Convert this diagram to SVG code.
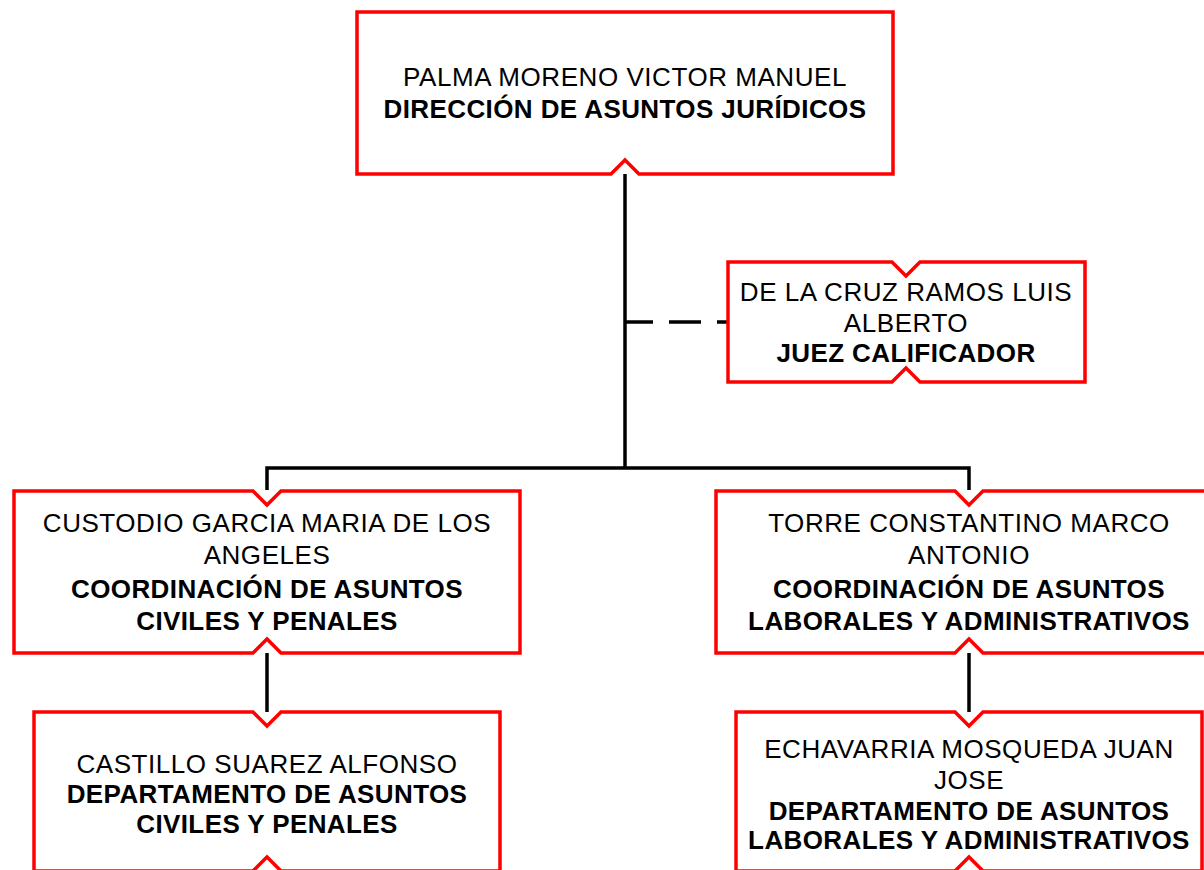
<svg xmlns="http://www.w3.org/2000/svg" width="1204" height="870" viewBox="0 0 1204 870">
<style>
.box{fill:#FFFFFF;stroke:#FF0000;stroke-width:3.5;stroke-linejoin:miter}
.ln{fill:none;stroke:#000000;stroke-width:3.5}
.dash{fill:none;stroke:#000000;stroke-width:3.5;stroke-dasharray:28 16 32 16 32 16}
text{font-family:"Liberation Sans",Arial,sans-serif;font-size:26px;letter-spacing:0.55px;fill:#000000;text-anchor:middle}
.b{font-weight:bold;letter-spacing:0.4px}
</style>
<rect width="1204" height="870" fill="#FFFFFF"/>
<g id="connectors">
<path class="ln" d="M625,174 V468"/>
<path class="ln" d="M267,490 V468 H969 V490"/>
<path class="dash" d="M625,322 H727"/>
<path class="ln" d="M267,653 V712"/>
<path class="ln" d="M969,653 V712"/>
</g>
<g id="n1">
<path class="box" d="M357,12 H893 V174 H639 L625,160 L611,174 H357 Z"/>
<text x="625" y="86">PALMA MORENO VICTOR MANUEL</text>
<text class="b" x="625" y="118">DIRECCIÓN DE ASUNTOS JURÍDICOS</text>
</g>
<g id="n2">
<path class="box" d="M728,262 H892 L906,276 L920,262 H1085 V382 H920 L906,368 L892,382 H728 Z"/>
<text x="906" y="301">DE LA CRUZ RAMOS LUIS</text>
<text x="906" y="332">ALBERTO</text>
<text class="b" x="906" y="362">JUEZ CALIFICADOR</text>
</g>
<g id="n3">
<path class="box" d="M14,491 H253 L267,505 L281,491 H520 V653 H281 L267,639 L253,653 H14 Z"/>
<text x="267" y="532">CUSTODIO GARCIA MARIA DE LOS</text>
<text x="267" y="564">ANGELES</text>
<text class="b" x="267" y="598">COORDINACIÓN DE ASUNTOS</text>
<text class="b" x="267" y="630">CIVILES Y PENALES</text>
</g>
<g id="n4">
<path class="box" d="M716,491 H955 L969,505 L983,491 H1222 V653 H983 L969,639 L955,653 H716 Z"/>
<text x="969" y="532">TORRE CONSTANTINO MARCO</text>
<text x="969" y="564">ANTONIO</text>
<text class="b" x="969" y="598">COORDINACIÓN DE ASUNTOS</text>
<text class="b" x="969" y="630">LABORALES Y ADMINISTRATIVOS</text>
</g>
<g id="n5">
<path class="box" d="M34,712 H253 L267,726 L281,712 H500 V871 H281 L267,857 L253,871 H34 Z"/>
<text x="267" y="773">CASTILLO SUAREZ ALFONSO</text>
<text class="b" x="267" y="803">DEPARTAMENTO DE ASUNTOS</text>
<text class="b" x="267" y="833">CIVILES Y PENALES</text>
</g>
<g id="n6">
<path class="box" d="M736,712 H955 L969,726 L983,712 H1202 V871 H983 L969,857 L955,871 H736 Z"/>
<text x="969" y="758">ECHAVARRIA MOSQUEDA JUAN</text>
<text x="969" y="789">JOSE</text>
<text class="b" x="969" y="820">DEPARTAMENTO DE ASUNTOS</text>
<text class="b" x="969" y="849">LABORALES Y ADMINISTRATIVOS</text>
</g>
</svg>
